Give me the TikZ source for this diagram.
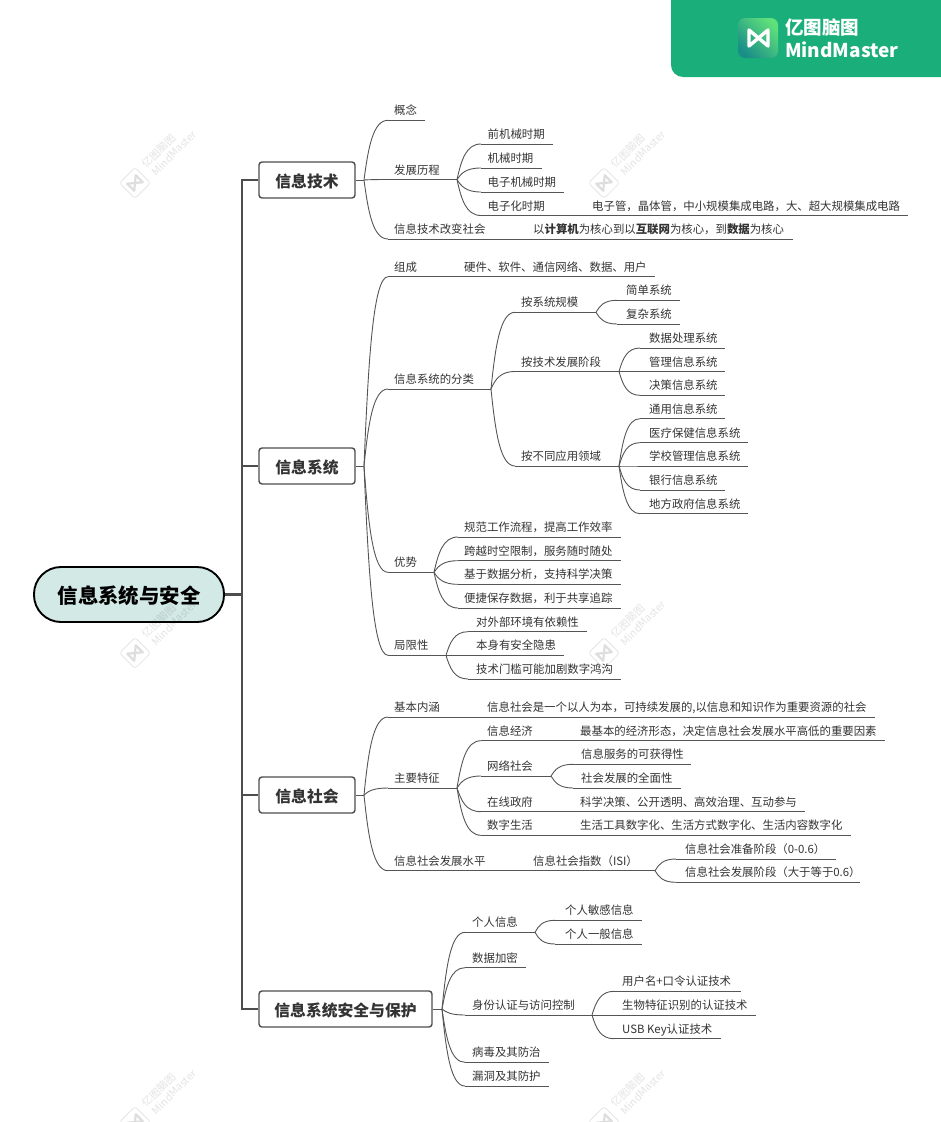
\documentclass[tikz,border=0pt]{standalone}
\usepackage{fontspec}
\setmainfont{Noto Sans CJK SC}
\usetikzlibrary{calc}
\definecolor{ink}{HTML}{333333}
\definecolor{rulec}{HTML}{555555}
\definecolor{trunkc}{HTML}{4D4D4D}
\definecolor{rootfill}{HTML}{D2E9E6}
\definecolor{brand}{HTML}{19AE7A}
\definecolor{logoa}{HTML}{5FE07A}
\definecolor{logob}{HTML}{1A8F88}
\tikzset{
  ul/.style={draw=rulec,line width=0.9pt},
  cnl/.style={draw=rulec,line width=0.9pt},
  lab/.style={inner sep=0pt,anchor=west,text=ink,font=\fontsize{11.4pt}{14pt}\selectfont,text height=9pt,text depth=2pt},
  topicbox/.style={draw=trunkc,line width=1.4pt,rounded corners=3pt,minimum height=36pt,inner sep=0pt,text=ink,font=\fontsize{15.8pt}{18pt}\selectfont\bfseries,text height=16pt,text depth=1.2pt},
  rootbox/.style={draw=black,line width=1.9pt,fill=rootfill,rounded corners=27pt,minimum width=190pt,minimum height=55pt,inner sep=0pt,text=black,font=\fontsize{20.4pt}{24pt}\selectfont\bfseries,text height=19pt,text depth=1.8pt},
  trunk/.style={draw=trunkc,line width=2.4pt,line join=miter},
  wmark/.style={inner sep=0pt,text=black,text opacity=.11,font=\fontsize{10.5pt}{12pt}\selectfont,rotate=45},
}
% name, x0, x1, y, text x, text
\newcommand\tpc[6]{%
  \coordinate (#1-l) at (#2,#4);
  \coordinate (#1-r) at (#3,#4);
  \draw[ul] (#1-l) -- (#1-r);
  \node[lab] (#1) at (#5,#4-9) {#6};
}
\newcommand\cnx[2]{%
  \draw[cnl] let \p1=(#1-r),\p2=(#2-l),\n1={\x2-\x1},\n2={\y2-\y1} in
    (\p1) .. controls (\x1+.18*\n1,\y1+.55*\n2) and (\x1+.38*\n1,\y2) .. (\p2);
}
\newcommand\wmk[3]{%
  \begin{scope}[shift={(#2,#3)}]
    \begin{scope}[rotate=45]
      \draw[black,draw opacity=.1,line width=.8pt,rounded corners=3pt] (-11,-11) rectangle (11,11);
      \draw[black,draw opacity=.13,line width=2.2pt,line join=round] (-6,-5) -- (6,5) -- (6,-5) -- (-6,5) -- cycle;
    \end{scope}
    \node[wmark] (#1a) at (24,-32) {亿图脑图};
    \node[wmark] (#1b) at (39,-30) {MindMaster};
  \end{scope}
}
\begin{document}
\begin{tikzpicture}[x=1pt,y=-1pt]
\useasboundingbox (0,0) rectangle (941,1122);
% header
\fill[brand] (671,0) [rounded corners=12pt] -- (671,77) [sharp corners] -- (941,77) -- (941,0) -- cycle;
\path[rounded corners=7pt,left color=logoa,right color=logob,shading angle=-45] (738,18) rectangle (778,58);
\draw[white,line width=3.4pt,line join=round] (749,30) -- (768,46) -- (768,30) -- (749,46) -- cycle;
\node[inner sep=0pt,anchor=west,text=white,font=\fontsize{18.5pt}{20pt}\selectfont\bfseries] (brandcn) at (785,27) {亿图脑图};
\node[inner sep=0pt,anchor=west,text=white,font=\fontsize{19pt}{20pt}\selectfont\bfseries] (branden) at (785,50) {MindMaster};

% root and first level
\node[rootbox] (root) at (129,594.5) {信息系统与安全};
\coordinate (tk) at (242,594.5);
\node[topicbox,minimum width=96pt] (t1) at (307,180) {信息技术};
\node[topicbox,minimum width=96pt] (t2) at (307,466) {信息系统};
\node[topicbox,minimum width=96pt] (t3) at (307,795) {信息社会};
\node[topicbox,minimum width=173pt] (t4) at (345.5,1009) {信息系统安全与保护};
\draw[trunk] (root.east) -- (tk);
\draw[trunk] (tk) |- (t1.west);
\draw[trunk] (tk) |- (t2.west);
\draw[trunk] (tk) |- (t3.west);
\draw[trunk] (tk) |- (t4.west);
\coordinate (t1-r) at (364,180);
\coordinate (t2-r) at (364,466);
\coordinate (t3-r) at (364,795);
\coordinate (t4-r) at (442,1009);
\draw[cnl] (t1.east) -- (t1-r);
\draw[cnl] (t2.east) -- (t2-r);
\draw[cnl] (t3.east) -- (t3-r);
\draw[cnl] (t4.east) -- (t4-r);

% 信息技术
\tpc{a1}{388}{425}{120.3}{394}{概念}
\tpc{a2}{388}{457}{179.5}{394}{发展历程}
\tpc{a3}{388}{525}{239}{394}{信息技术改变社会}
\cnx{t1}{a1}\cnx{t1}{a2}\cnx{t1}{a3}
\tpc{a21}{481}{553}{144}{487.5}{前机械时期}
\tpc{a22}{481}{542}{168}{487.5}{机械时期}
\tpc{a23}{481}{564}{192}{487.5}{电子机械时期}
\tpc{a24}{481}{585}{215.5}{487.5}{电子化时期}
\cnx{a2}{a21}\cnx{a2}{a22}\cnx{a2}{a23}\cnx{a2}{a24}
\tpc{a241}{585}{908}{215.5}{592}{电子管，晶体管，中小规模集成电路，大、超大规模集成电路}
\cnx{a24}{a241}
\tpc{a31}{525}{793}{239}{533}{以\textbf{计算机}为核心到以\textbf{互联网}为核心，到\textbf{数据}为核心}
\cnx{a3}{a31}

% 信息系统
\tpc{b1}{388}{457}{276.7}{394}{组成}
\tpc{b2}{388}{491}{389}{394}{信息系统的分类}
\tpc{b3}{388}{434}{572.3}{394}{优势}
\tpc{b4}{388}{446}{655.3}{394}{局限性}
\cnx{t2}{b1}\cnx{t2}{b2}\cnx{t2}{b3}\cnx{t2}{b4}
\tpc{b11}{457}{655}{276.7}{464}{硬件、软件、通信网络、数据、用户}
\cnx{b1}{b11}
\tpc{b21}{515}{596}{312.3}{521}{按系统规模}
\tpc{b22}{515}{619}{371.5}{521}{按技术发展阶段}
\tpc{b23}{515}{619}{466}{521}{按不同应用领域}
\cnx{b2}{b21}\cnx{b2}{b22}\cnx{b2}{b23}
\tpc{b211}{617}{680}{300.3}{626}{简单系统}
\tpc{b212}{617}{680}{324}{626}{复杂系统}
\cnx{b21}{b211}\cnx{b21}{b212}
\tpc{b221}{640}{725}{348}{649}{数据处理系统}
\tpc{b222}{640}{725}{371.5}{649}{管理信息系统}
\tpc{b223}{640}{725}{395.3}{649}{决策信息系统}
\cnx{b22}{b221}\cnx{b22}{b222}\cnx{b22}{b223}
\tpc{b231}{640}{725}{418.7}{649}{通用信息系统}
\tpc{b232}{640}{748}{442.7}{649}{医疗保健信息系统}
\tpc{b233}{640}{748}{466}{649}{学校管理信息系统}
\tpc{b234}{640}{725}{490}{649}{银行信息系统}
\tpc{b235}{640}{748}{513.7}{649}{地方政府信息系统}
\cnx{b23}{b231}\cnx{b23}{b232}\cnx{b23}{b233}\cnx{b23}{b234}\cnx{b23}{b235}
\tpc{b31}{458}{621}{537}{464}{规范工作流程，提高工作效率}
\tpc{b32}{458}{621}{560.7}{464}{跨越时空限制，服务随时随处}
\tpc{b33}{458}{621}{584.3}{464}{基于数据分析，支持科学决策}
\tpc{b34}{458}{621}{608}{464}{便捷保存数据，利于共享追踪}
\cnx{b3}{b31}\cnx{b3}{b32}\cnx{b3}{b33}\cnx{b3}{b34}
\tpc{b41}{468}{587}{631.7}{476}{对外部环境有依赖性}
\tpc{b42}{468}{564}{655.3}{476}{本身有安全隐患}
\tpc{b43}{468}{621}{679}{476}{技术门槛可能加剧数字鸿沟}
\cnx{b4}{b41}\cnx{b4}{b42}\cnx{b4}{b43}

% 信息社会
\tpc{c1}{388}{481}{717}{394}{基本内涵}
\tpc{c2}{388}{457}{788}{394}{主要特征}
\tpc{c3}{388}{493}{870.7}{394}{信息社会发展水平}
\cnx{t3}{c1}\cnx{t3}{c2}\cnx{t3}{c3}
\tpc{c11}{481}{875}{717}{487}{信息社会是一个以人为本，可持续发展的,以信息和知识作为重要资源的社会}
\cnx{c1}{c11}
\tpc{c21}{481}{572}{740.7}{487}{信息经济}
\tpc{c22}{481}{551}{776}{487}{网络社会}
\tpc{c23}{481}{572}{811.7}{487}{在线政府}
\tpc{c24}{481}{572}{835.3}{487}{数字生活}
\cnx{c2}{c21}\cnx{c2}{c22}\cnx{c2}{c23}\cnx{c2}{c24}
\tpc{c211}{572}{885}{740.7}{580}{最基本的经济形态，决定信息社会发展水平高低的重要因素}
\cnx{c21}{c211}
\tpc{c221}{573}{691}{764.3}{581}{信息服务的可获得性}
\tpc{c222}{573}{681}{788}{581}{社会发展的全面性}
\cnx{c22}{c221}\cnx{c22}{c222}
\tpc{c231}{572}{805}{811.7}{580}{科学决策、公开透明、高效治理、互动参与}
\cnx{c23}{c231}
\tpc{c241}{572}{851}{835.3}{580}{生活工具数字化、生活方式数字化、生活内容数字化}
\cnx{c24}{c241}
\tpc{c31}{493}{655}{870.7}{533}{信息社会指数（ISI）}
\cnx{c3}{c31}
\tpc{c311}{676}{836}{859}{685}{信息社会准备阶段（0-0.6）}
\tpc{c312}{676}{860}{882.3}{685}{信息社会发展阶段（大于等于0.6）}
\cnx{c31}{c311}\cnx{c31}{c312}

% 信息系统安全与保护
\tpc{d1}{465}{535}{932.3}{472}{个人信息}
\tpc{d2}{465}{526}{967.7}{472}{数据加密}
\tpc{d3}{465}{592}{1015}{472}{身份认证与访问控制}
\tpc{d4}{465}{549}{1062.3}{472}{病毒及其防治}
\tpc{d5}{465}{549}{1086}{472}{漏洞及其防护}
\cnx{t4}{d1}\cnx{t4}{d2}\cnx{t4}{d3}\cnx{t4}{d4}\cnx{t4}{d5}
\tpc{d11}{555}{642}{920.3}{565}{个人敏感信息}
\tpc{d12}{555}{642}{944}{565}{个人一般信息}
\cnx{d1}{d11}\cnx{d1}{d12}
\tpc{d31}{614}{741}{991.3}{622}{用户名+口令认证技术}
\tpc{d32}{614}{756}{1015}{622}{生物特征识别的认证技术}
\tpc{d33}{614}{721}{1038.7}{622}{USB Key认证技术}
\cnx{d3}{d31}\cnx{d3}{d32}\cnx{d3}{d33}

% watermarks
\begin{scope}
\clip (0,0) rectangle (941,1122);
\wmk{wa}{135}{183}
\wmk{wb}{604}{183}
\wmk{wc}{135}{653}
\wmk{wd}{604}{653}
\wmk{we}{135}{1122}
\wmk{wf}{604}{1122}
\end{scope}
\end{tikzpicture}
\end{document}
